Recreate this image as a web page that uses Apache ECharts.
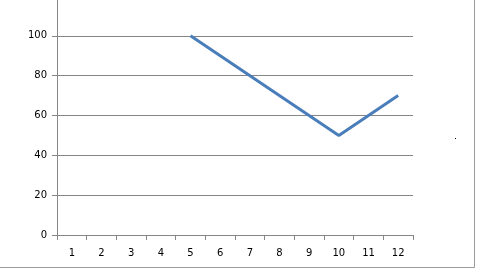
<!DOCTYPE html>
<html><head><meta charset="utf-8">
<style>html,body{margin:0;padding:0;background:#fff}#c{width:479px;height:270px}</style>
<script src="https://cdn.jsdelivr.net/npm/echarts@6/dist/echarts.min.js"></script>
</head><body><div id="c"></div>
<script>
var categories = ['1','2','3','4','5','6','7','8','9','10','11','12'];
var values = [null,null,null,null,100,null,null,null,null,50,null,70];
var yTicks = [0,20,40,60,80,100];

var chart = echarts.init(document.getElementById('c'), null, {renderer:'canvas'});
chart.setOption({
  animation:false,
  grid:{left:57,right:66,top:0,bottom:35,containLabel:false},
  xAxis:{type:'category',data:categories,boundaryGap:true,
    axisLine:{lineStyle:{color:'#868686',width:1}},
    axisTick:{show:true,length:5,lineStyle:{color:'#868686'},alignWithLabel:false},
    axisLabel:{color:'#000',fontFamily:'DejaVu Sans',fontSize:10,margin:13},
    splitLine:{show:false}},
  yAxis:{type:'value',min:0,max:118,interval:20,
    axisLine:{show:true,lineStyle:{color:'#868686',width:1}},
    axisTick:{show:true,length:5,lineStyle:{color:'#868686'}},
    axisLabel:{color:'#000',fontFamily:'DejaVu Sans',fontSize:10,margin:10,showMaxLabel:false,
      formatter:function(v){return yTicks.indexOf(v)>=0?String(v):'';}},
    splitLine:{show:true,showMaxLine:false,lineStyle:{color:'#868686',width:1}}},
  series:[{type:'line',data:values,connectNulls:true,showSymbol:false,symbol:'none',
    lineStyle:{color:'#4a7ebb',width:3},itemStyle:{color:'#4a7ebb'}}],
  graphic:[
    {type:'rect',shape:{x:-10,y:-10,width:484.5,height:277.5},style:{fill:'none',stroke:'#9a9a9a',lineWidth:1},silent:true},
    {type:'rect',shape:{x:455,y:138,width:1,height:1},style:{fill:'#000'},silent:true}
  ]
});
</script></body></html>
